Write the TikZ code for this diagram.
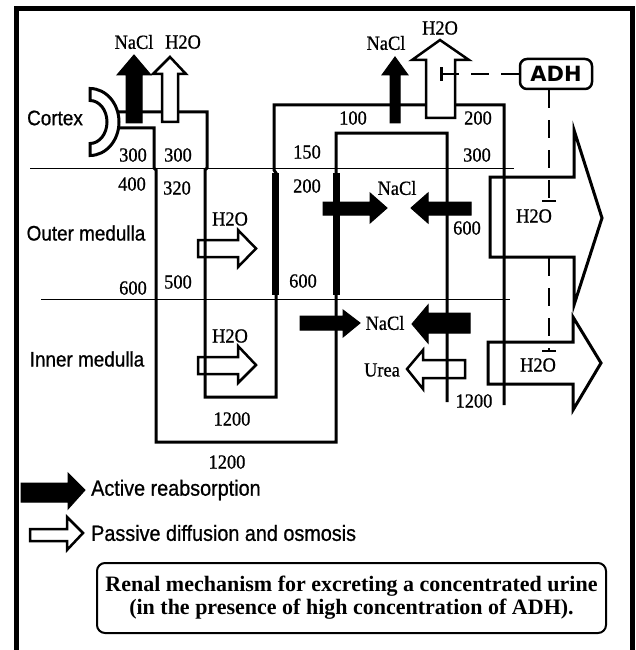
\documentclass[tikz,border=0pt]{standalone}
\usepackage{fontspec}
\setmainfont{Liberation Serif}
\setsansfont{Liberation Sans}
\newfontfamily\numfont{Liberation Serif}[FakeStretch=0.92, FakeBold=0.8]
\newfontfamily\lblfont{Liberation Sans}[FakeStretch=0.9, FakeBold=0.8]
\newfontfamily\adhfont{DejaVu Sans}
\usetikzlibrary{arrows.meta}

\begin{document}
\begin{tikzpicture}[x=1pt, y=-1pt, line join=miter,
		tube/.style={line width=3pt},
		zone/.style={line width=0.9pt},
		active/.style={draw=black, fill=black, line width=1pt},
		passive/.style={draw=black, fill=white, line width=2.5pt},
		num/.style={font=\numfont\fontsize{20}{21}\selectfont, inner sep=0pt},
		lbl/.style={font=\lblfont\fontsize{21}{22}\selectfont, inner sep=0pt},
		inhib/.style={line width=2.5pt, dash pattern=on 18pt off 12pt, -{Bar[width=14pt]}}]
		
		\useasboundingbox (0,0) rectangle (635,650);
		
		% Frame
		\draw[line width=5pt] (16.5,660) -- (16.5,8.5) -- (632.5,8.5) -- (632.5,660);
		
		% Zones
		\draw[zone] (30,168) -- (514,168);
		\draw[zone] (41,299) -- (510,299);
		
		% Passive transport under the tubule
		\draw[passive] (198,240) -- (238,240) -- (238,230) -- (256,248.5) -- (238,267) -- (238,257) -- (198,257) -- cycle;
		\draw[passive] (198,357) -- (238,357) -- (238,346) -- (256,365) -- (238,383) -- (238,374) -- (198,374) -- cycle;
		\draw[passive] (465,360) -- (423,360) -- (423,350) -- (407,369) -- (423,389) -- (423,378) -- (465,378) -- cycle; %Urea
		\draw[passive, line width=3pt] (490,177) -- (574,177) -- (574,130) -- (602,218) -- (574,305) -- (574,257) -- (490,257) -- cycle;
		\draw[passive, line width=3pt] (488,342) -- (573,342) -- (573,317) -- (601,363) -- (573,410) -- (573,384) -- (488,384) -- cycle;
		
		% Tubule
		\draw[tube] (117,112) -- (207,112) -- (207,168) -- (205,170) -- (205,397) -- (276,397) -- (276,173) -- (274,170) -- (274,105) -- (504,105) -- (504,405);
		\draw[tube] (117,128) -- (154,128) -- (154,168) -- (156,170) -- (156,442) -- (336,442) -- (336,133) -- (447,133) -- (447,402);
		\draw[line width=7pt] (275.5,173) -- (275.5,295); %thick ascending limb
		\draw[line width=7pt] (336,173) -- (336,295);
		
		% Active transport
		\draw[active] (323,202) -- (370,202) -- (370,193) -- (387,208) -- (370,223) -- (370,215) -- (323,215) -- cycle;
		\draw[active] (471,202) -- (428,202) -- (428,193) -- (411,208) -- (428,223) -- (428,215) -- (471,215) -- cycle;
		\draw[active] (300,316) -- (343,316) -- (343,310) -- (360,323) -- (343,337) -- (343,330) -- (300,330) -- cycle;
		\draw[active] (470,313) -- (428,313) -- (428,305) -- (412,324) -- (428,343) -- (428,333) -- (470,333) -- cycle;
		
		% Cortex arrows
		\draw[active] (126,123) -- (126,75) -- (117,75) -- (134,55) -- (151,75) -- (142,75) -- (142,123) -- cycle;
		\draw[passive] (162,122) -- (162,74) -- (153,74) -- (170,57) -- (186,74) -- (178,74) -- (178,122) -- cycle;
		\draw[active] (390,123) -- (390,75) -- (382,75) -- (395,57) -- (408,75) -- (400,75) -- (400,123) -- cycle;
		\draw[passive] (426,118) -- (426,60) -- (412,60) -- (440,40) -- (469,60) -- (455,60) -- (455,118) -- cycle;
		
		% Capsule
		\draw[line width=3pt, fill=white] (90,88.5) arc[start angle=-90, end angle=90, x radius=29, y radius=33.5]
			-- ++(0,-12) arc[start angle=90, end angle=-90, x radius=17, y radius=21.5] -- cycle;
		
		% Zone names
		\node[lbl] (cortex) at (55,118) {Cortex};
		\node[lbl] (outer) at (86,233) {Outer medulla};
		\node[lbl] (inner) at (87,359) {Inner medulla};
		
		% Solutes
		\node[num] (nacl1) at (134,42) {NaCl};
		\node[num] (water1) at (183,42) {H2O};
		\node[num] (nacl2) at (386,43) {NaCl};
		\node[num] (water2) at (440,28) {H2O};
		\node[num] (nacl3) at (397,188) {NaCl};
		\node[num] (nacl4) at (385,323) {NaCl};
		\node[num] (urea) at (382,370) {Urea};
		\node[num] (water3) at (230,219) {H2O};
		\node[num] (water4) at (230,336) {H2O};
		\node[num] (water5) at (534,216) {H2O};
		\node[num] (water6) at (538,365) {H2O};
		
		% Osmolality
		\node[num] (osm1) at (133,155) {300};
		\node[num] (osm2) at (178,155) {300};
		\node[num] (osm3) at (132,184) {400};
		\node[num] (osm4) at (177,188) {320};
		\node[num] (osm5) at (307,152) {150};
		\node[num] (osm6) at (307,186) {200};
		\node[num] (osm7) at (353,118) {100};
		\node[num] (osm8) at (478,118) {200};
		\node[num] (osm9) at (477,155) {300};
		\node[num] (osm10) at (133,288) {600};
		\node[num] (osm11) at (178,282) {500};
		\node[num] (osm12) at (303,281) {600};
		\node[num] (osm13) at (467,228) {600};
		\node[num] (osm14) at (232,419) {1200};
		\node[num] (osm15) at (227,462) {1200};
		\node[num] (osm16) at (474,401) {1200};
		
		% ADH
		\node[draw, line width=2.5pt, fill=white, rounded corners=7pt, minimum width=72, minimum height=30,
			inner sep=0pt, font=\adhfont\bfseries\fontsize{21}{22}\selectfont] (adh) at (556,74) {ADH};
		\coordinate (inh1) at (440,74);
		\coordinate (inh2) at (549,202);
		\coordinate (inh3) at (549,258);
		\coordinate (inh4) at (549,352);
		\draw[inhib] (adh.west) -- (inh1);
		\draw[inhib] (adh.south -| inh2) -- (inh2);
		\draw[inhib] (inh3) -- (inh4);
		
		% Legend
		\draw[active] (21,483) -- (68,483) -- (68,473) -- (85,490) -- (68,509) -- (68,502) -- (21,502) -- cycle;
		\node[anchor=west, inner sep=0pt, font=\lblfont\fontsize{22}{23}\selectfont] (act) at (91,490) {Active reabsorption};
		\draw[passive] (30,529) -- (67,529) -- (67,517) -- (83,533) -- (67,550) -- (67,541) -- (30,541) -- cycle;
		\node[anchor=west, inner sep=0pt, font=\lblfont\fontsize{22}{23}\selectfont] (pas) at (91,533) {Passive diffusion and osmosis};
		
		\node[draw, line width=2pt, rounded corners=8pt, minimum width=509, minimum height=70, align=center,
			font=\bfseries\fontsize{22}{23}\selectfont] (title) at (351.5,598)
			{Renal mechanism for excreting a concentrated urine\\(in the presence of high concentration of ADH).};
		
	\end{tikzpicture}
\end{document}
